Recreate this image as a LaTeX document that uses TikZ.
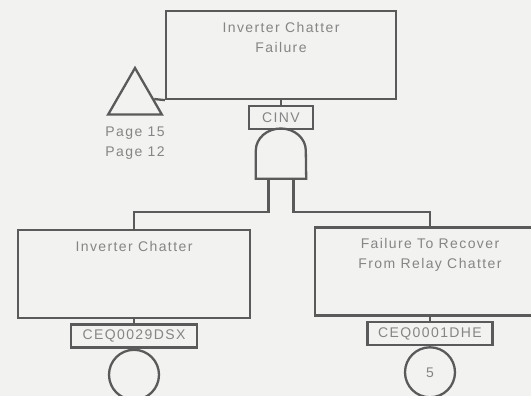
\documentclass[tikz,border=0pt]{standalone}
\usepackage{fontspec}
\setmainfont{Liberation Sans}
\newfontfamily\ftfont[LetterSpace=10]{Liberation Sans}
\usetikzlibrary{positioning, shapes.geometric}

\definecolor{paper}{HTML}{F2F2F0}
\definecolor{ink}{HTML}{5A5A5A}
\definecolor{txt}{HTML}{858585}

\begin{document}
\begin{tikzpicture}[
    x=1pt, y=1pt,
    font=\ftfont\fontsize{14}{20}\selectfont,
    ln/.style={draw=ink, line width=2.3pt},
    evt/.style={ln, minimum width=230, minimum height=88, inner sep=0pt},
    evtxt/.style={anchor=north, text=txt, align=center, inner sep=0pt,
                  yshift=-12pt},
    tag/.style={ln, minimum height=23, inner sep=2pt, text=txt},
    basic/.style={ln, circle, minimum size=50, inner sep=0pt, text=txt},
    xfer/.style={ln, regular polygon, regular polygon sides=3,
                 minimum size=62, inner sep=0pt},
  ]

  \useasboundingbox (0,0) rectangle (531,-396);
  \clip (0,0) rectangle (531,-396);
  \fill[paper] (0,0) rectangle (531,-396);

  \coordinate (bus) at (0,-212);

  % -- top event and its gate
  \node[evt, label={[evtxt]north:{Inverter Chatter\\Failure}}] (top)
    at (281,-55) {};
  \node[tag, minimum width=64] (cinv) at (281,-117.5) {CINV};
  \node[minimum width=50, minimum height=50, inner sep=0pt] (cinvg)
    at (281,-153.5) {};
  \draw[ln] (cinvg.south west) -- ([yshift=3pt]cinvg.west)
    arc[start angle=180, end angle=0, x radius=25, y radius=22]
    -- (cinvg.south east) -- cycle;

  % -- transfer
  \node[xfer] (pg) at (135,-99) {};
  \node[text=txt, align=center, inner sep=0pt, below=11pt of pg] (pgref)
    {Page 15\\Page 12};

  % -- inputs
  \node[evt, minimum width=232, label={[evtxt]north:Inverter Chatter}] (chat)
    at (134,-274) {};
  \node[evt, label={[evtxt]north:{Failure To Recover\\From Relay Chatter}}]
    (rcv) at (430,-271.5) {};

  \node[tag, minimum width=126] (t1) at (134,-336) {CEQ0029DSX};
  \node[tag, minimum width=125] (t2) at (430,-333.5) {CEQ0001DHE};
  \node[basic, below=0pt of t1] (b1) {};
  \node[basic, below=0pt of t2] (b2) {5};

  % -- connectors
  \draw[ln] (top.south) -- (cinv.north);
  \draw[ln] (top.south west) -- (pg.east);
  \draw[ln] ([xshift=-12.5pt]cinvg.south) |- (chat.north |- bus) -- (chat.north);
  \draw[ln] ([xshift=12.5pt]cinvg.south) |- (rcv.north |- bus) -- (rcv.north);
  \draw[ln] (chat.south) -- (t1.north);
  \draw[ln] (rcv.south) -- (t2.north);

\end{tikzpicture}
\end{document}
